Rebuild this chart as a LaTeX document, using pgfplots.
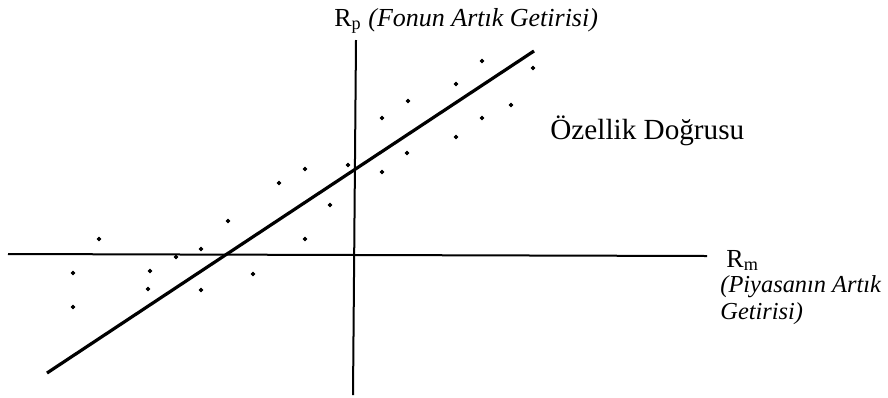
\documentclass[border=0pt]{standalone}
\usepackage{pgfplots}
\pgfplotsset{compat=1.18}
\usepackage{fontspec}
\setmainfont{Liberation Serif}

% observed (market excess return, fund excess return) pairs, in drawing units
\pgfplotstableread{
x   y
99  239
73  273
73  307
150 271
148 289
176 257
201 249
201 290
228 221
253 274
279 183
305 169
305 239
330 205
348 165
382 118
408 101
382 172
407 153
456 84
482 61
456 137
482 118
511 105
533 68
}\points

\begin{document}
\begin{tikzpicture}
\begin{axis}[
  x=0.5pt, y=0.5pt,
  xmin=0, xmax=888, ymin=0, ymax=397,
  y dir=reverse,
  hide axis,
  clip=false,
]
% market axis and fund axis
\addplot[black, line width=1pt] coordinates {(8,254) (707,256)};
\addplot[black, line width=1pt] coordinates {(356,40) (353,395)};
% characteristic line
\addplot[black, line width=1.6pt] coordinates {(47,373) (534,51)};
% scatter of observations
\addplot[only marks, mark=*, mark size=0.95pt, black] table[x=x, y=y] {\points};

\node[anchor=base west, font=\fontsize{13}{15}\selectfont, inner sep=0pt]
  at (axis cs:334,26) {R\textsubscript{p} \textit{(Fonun Artık Getirisi)}};
\node[anchor=base west, font=\fontsize{14.6}{17}\selectfont, inner sep=0pt]
  at (axis cs:550,139) {Özellik Doğrusu};
\node[anchor=base west, font=\fontsize{13}{15}\selectfont, inner sep=0pt]
  at (axis cs:726,267) {R\textsubscript{m}};
\node[anchor=base west, font=\fontsize{12.2}{14}\selectfont\itshape, inner sep=0pt]
  at (axis cs:720,292) {(Piyasanın Artık};
\node[anchor=base west, font=\fontsize{12.2}{14}\selectfont\itshape, inner sep=0pt]
  at (axis cs:720,319) {Getirisi)};
\end{axis}
\pgfresetboundingbox
\path (current axis.south west) rectangle (current axis.north east);
\end{tikzpicture}
\end{document}
